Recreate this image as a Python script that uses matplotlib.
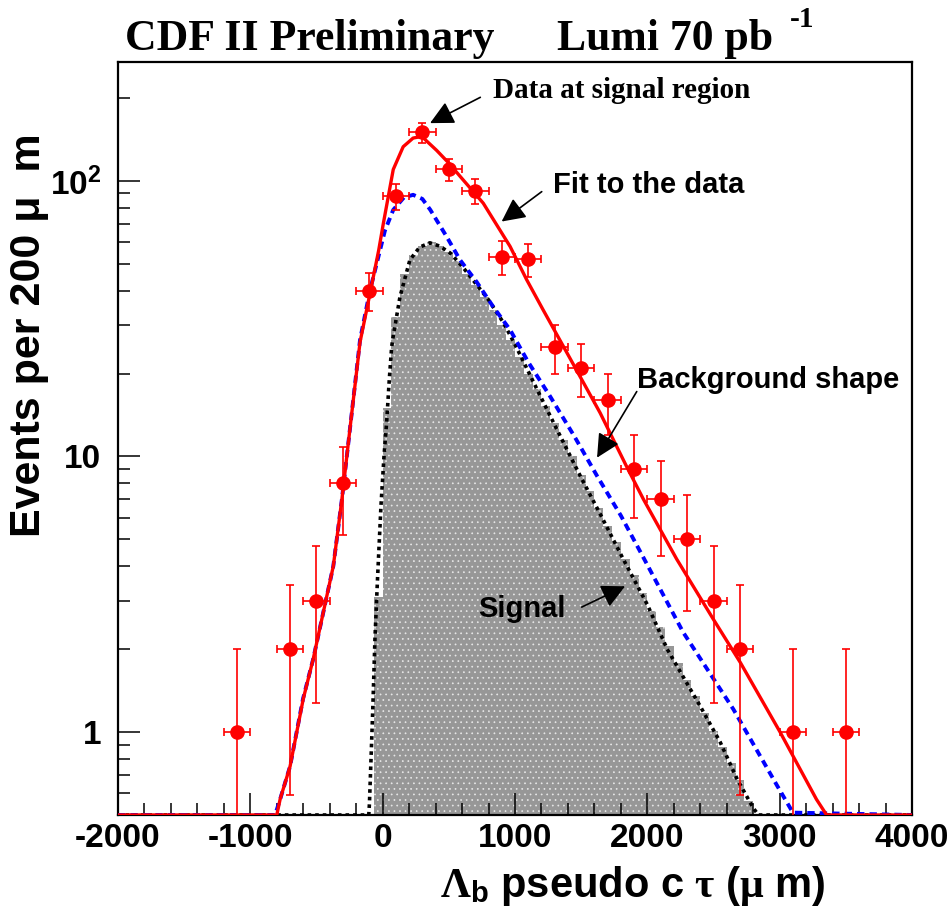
import numpy as np
import matplotlib
matplotlib.use('Agg')
import matplotlib.pyplot as plt
from matplotlib.ticker import FixedLocator, NullFormatter, LogLocator, MultipleLocator

plt.rcParams['font.family'] = ['Liberation Sans', 'DejaVu Sans']
plt.rcParams['font.weight'] = 'bold'
plt.rcParams['axes.unicode_minus'] = False
plt.rcParams['mathtext.fontset'] = 'custom'
plt.rcParams['mathtext.rm'] = 'Liberation Serif'
plt.rcParams['mathtext.it'] = 'Liberation Serif'
plt.rcParams['mathtext.bf'] = 'Liberation Sans:bold'
plt.rcParams['hatch.linewidth'] = 0.5

# data points (200 um bins)
data_x = [-1100, -700, -500, -300, -100, 100, 300, 500, 700, 900, 1100,
          1300, 1500, 1700, 1900, 2100, 2300, 2500, 2700, 3100, 3500]
data_y = [1, 2, 3, 8, 40, 88, 150, 110, 92, 53, 52,
          25, 21, 16, 9, 7, 5, 3, 2, 1, 1]
data_yerr = [1.0, 1.41, 1.73, 2.83, 6.32, 9.38, 12.25, 10.49, 9.59, 7.28, 7.21,
             5.0, 4.58, 4.0, 3.0, 2.65, 2.24, 1.73, 1.41, 1.0, 1.0]
data_xerr = 100

# fit to the data (red)
fit_x = [-2000, -800, -775, -700, -600, -525, -450, -373, -308, -240, -171, -96,
         -30, 5, 80, 155, 230, 295, 408, 500, 584, 760, 963, 1088, 1213, 1450,
         1643, 1843, 1970, 2222, 2498, 2702, 3003, 3100, 3278, 3355, 4000]
fit_y = [0.5, 0.5, 0.57, 0.75, 1.32, 1.84, 2.7, 4.0, 7.0, 13.5, 26, 39,
         56, 70, 110, 133, 143, 145, 129, 116, 104, 83, 57.8, 43.8, 34, 21.2,
         14.4, 9.2, 7.0, 4.24, 2.57, 1.79, 1.0, 0.82, 0.57, 0.5, 0.5]

# background shape (blue dashed)
bkg_x = [-2000, -813, -775, -700, -602, -525, -450, -373, -308, -240, -171, -96,
         17, 80, 160, 230, 300, 360, 483, 584, 710, 834, 963, 1100, 1266, 1450,
         1620, 1800, 1970, 2271, 2650, 2980, 3100, 4000]
bkg_y = [0.5, 0.5, 0.57, 0.75, 1.32, 1.84, 2.7, 4.0, 7.0, 13.5, 26.5, 40,
         66, 78.5, 87, 89, 86, 78.5, 62.8, 51.7, 43, 35, 28.8, 22, 16.5, 11.8,
         8.5, 6.1, 4.3, 2.3, 1.21, 0.64, 0.51, 0.5]

# signal shape (black dotted)
sig_x = [-2000, -105, -100, -90, -75, -58, -40, -13, 10, 30, 50, 68, 78, 131,
         206, 280, 357, 430, 509, 600, 682, 800, 912, 1000, 1167, 1300, 1493,
         1650, 1818, 2000, 2150, 2300, 2400, 2550, 2678, 2800, 2840, 4000]
sig_y = [0.5, 0.5, 0.55, 0.75, 1.2, 2.2, 3.5, 6.6, 10, 13.3, 19, 25, 27, 38,
         51.7, 57.5, 59.6, 58, 54.8, 49, 43.7, 37, 30.6, 25.5, 17.5, 13, 8.5,
         6.1, 4.24, 2.9, 2.0, 1.5, 1.24, 0.92, 0.676, 0.53, 0.5, 0.5]

# signal histogram (90 bins over -2000..4000, first filled bin starts at -66.7)
hist_first_bin = 29
hist_counts = [3.1, 15, 32, 46, 54, 58, 60, 58, 55, 51, 46, 42, 38, 34, 30,
               26.5, 23, 20, 17.5, 15.2, 13.2, 11.5, 10, 8.6, 7.5, 6.5, 5.6,
               4.9, 4.25, 3.7, 3.2, 2.75, 2.4, 2.05, 1.78, 1.55, 1.35, 1.17,
               1.01, 0.88, 0.77, 0.67, 0.56]

fig = plt.figure(figsize=(9.51, 9.14), dpi=100)
ax = fig.add_axes([118 / 951, 1 - 815 / 914, 794 / 951, 753 / 914])
ax.set_yscale('log')

edges = np.linspace(-2000, 4000, 91)[hist_first_bin:hist_first_bin + len(hist_counts) + 1]
ax.stairs(hist_counts, edges, baseline=0.1, fill=True, facecolor='#979797',
          edgecolor='#e8e8e8', hatch='...', linewidth=0, zorder=1)

ax.plot(sig_x, sig_y, color='black', lw=2.6, linestyle=(0, (1, 1.1)), zorder=2)
ax.plot(bkg_x, bkg_y, color='#0000ff', lw=2.8, linestyle=(0, (1.9, 1.3)), zorder=3)
ax.plot(fit_x, fit_y, color='#ff0000', lw=2.4, zorder=4)

ax.errorbar(data_x, data_y, yerr=data_yerr, xerr=data_xerr, fmt='o', color='#ff0000',
            ms=9.5, elinewidth=1.2, capsize=3, capthick=1.2, zorder=5)

ax.set_xlim(-2000, 4000)
ax.set_ylim(0.5, 270)
ax.xaxis.set_major_locator(MultipleLocator(1000))
ax.xaxis.set_minor_locator(MultipleLocator(200))
ax.yaxis.set_major_locator(FixedLocator([1, 10, 100]))
ax.set_yticklabels(['1', '10', r'$\mathbf{10^{2}}$'])
ax.yaxis.set_minor_locator(LogLocator(base=10, subs=np.arange(2, 10)))
ax.yaxis.set_minor_formatter(NullFormatter())

ax.tick_params(which='both', direction='in', top=False, right=False, width=1.1,
               labelsize=24)
ax.tick_params(which='major', length=16)
ax.tick_params(which='minor', length=8.5)
ax.tick_params(axis='x', pad=6)
ax.tick_params(axis='y', pad=12)
for s in ax.spines.values():
    s.set_linewidth(1.6)

# annotations
arrow = dict(arrowstyle='-|>', color='black', lw=1.2, mutation_scale=36,
             shrinkA=0, shrinkB=0)
ax.annotate('', xy=(358, 162), xytext=(738, 201), arrowprops=arrow, zorder=6)
ax.text(834, 213, 'Data at signal region', family='Liberation Serif',
        fontsize=21, fontweight='bold', va='center', ha='left')
ax.annotate('', xy=(899, 71.2), xytext=(1202, 91.4), arrowprops=arrow, zorder=6)
ax.text(1287, 96.7, 'Fit to the data', fontsize=21, va='center', ha='left')
ax.annotate('', xy=(1620, 9.9), xytext=(1920, 17.2), arrowprops=arrow, zorder=6)
ax.text(1922, 18.9, 'Background shape', fontsize=21, va='center', ha='left')
ax.annotate('', xy=(1832, 3.38), xytext=(1504, 2.84), arrowprops=arrow, zorder=6)
ax.text(720, 2.79, 'Signal', fontsize=21, va='center', ha='left')

# axis titles
fig.text(29 / 951, 1 - 335 / 914, 'Events per 200 \u03bc  m', rotation=90,
         fontsize=31, ha='center', va='center')
fig.text(633 / 951, 1 - 886 / 914,
         r'$\Lambda_{\mathbf{b}}$ pseudo c $\tau$ ($\mu$ m)',
         fontsize=30, ha='center', va='center')

# header
fig.text(125 / 951, 1 - 50 / 914, 'CDF II Preliminary', family='Liberation Serif',
         fontsize=31.5, fontweight='bold', va='baseline', ha='left')
fig.text(557 / 951, 1 - 50 / 914, 'Lumi 70 pb', family='Liberation Serif',
         fontsize=31.5, fontweight='bold', va='baseline', ha='left')
fig.text(790 / 951, 1 - 27 / 914, '-1', family='Liberation Serif',
         fontsize=21, fontweight='bold', va='baseline', ha='left')

fig.savefig('out.png', dpi=100)
